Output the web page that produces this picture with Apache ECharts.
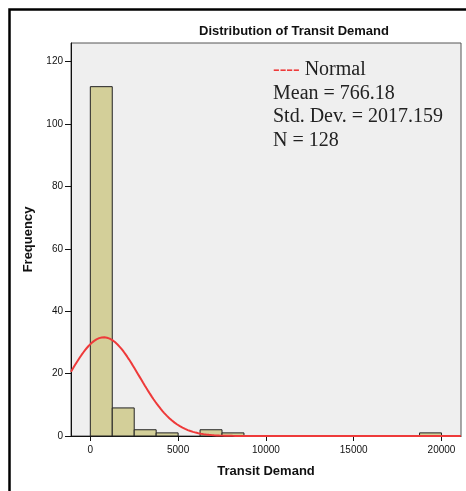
<!DOCTYPE html>
<html>
<head>
<meta charset="utf-8">
<script src="https://cdn.jsdelivr.net/npm/echarts@6/dist/echarts.min.js"></script>
<style>
  html, body { margin: 0; padding: 0; background: #fff; }
  #chart { width: 466px; height: 491px; }
</style>
</head>
<body>
<div id="chart"></div>
<script>
// Histogram bins (lower edges) and their frequencies
const binStarts = [0, 1250, 2500, 3750, 6250, 7500, 18750];
const binCounts = [112, 9, 2, 1, 2, 1, 1];
const binWidth = 1250;

// Fitted normal parameters as reported
const normalMean = 766.18;
const normalSD = 2017.159;
const normalN = 128;

// Tick labels
const xTicks = [0, 5000, 10000, 15000, 20000];
const yTicks = [0, 20, 40, 60, 80, 100, 120];

const xMin = -1100, xMax = 21110;
const yMax = 126;

// Expected count per bin under the fitted normal curve
const curve = [];
for (let x = xMin; x <= xMax; x += 50) {
  const z = (x - normalMean) / normalSD;
  const y = normalN * binWidth * Math.exp(-0.5 * z * z) / (normalSD * Math.sqrt(2 * Math.PI));
  curve.push([x, y]);
}

const barData = binStarts.map((s, i) => [s, s + binWidth, binCounts[i]]);

const chart = echarts.init(document.getElementById('chart'));
chart.setOption({
  animation: false,
  backgroundColor: '#ffffff',
  grid: {
    left: 71, top: 43, width: 390, height: 393,
    show: true, backgroundColor: '#efefef', borderColor: '#555', borderWidth: 1
  },
  xAxis: {
    type: 'value', min: xMin, max: xMax,
    name: 'Transit Demand', nameLocation: 'middle', nameGap: 29,
    nameTextStyle: { fontFamily: 'Liberation Sans', fontWeight: 'bold', fontSize: 13, color: '#111' },
    splitLine: { show: false },
    axisLine: { onZero: false, lineStyle: { color: '#111', width: 1 } },
    axisTick: { show: true, length: 5, customValues: xTicks, lineStyle: { color: '#111' } },
    axisLabel: {
      customValues: xTicks, formatter: v => String(v),
      fontFamily: 'Liberation Sans', fontSize: 10, color: '#111', margin: 9
    }
  },
  yAxis: {
    type: 'value', min: 0, max: yMax,
    name: 'Frequency', nameLocation: 'middle', nameGap: 34,
    nameTextStyle: { fontFamily: 'Liberation Sans', fontWeight: 'bold', fontSize: 13, color: '#111' },
    splitLine: { show: false },
    axisLine: { show: true, onZero: false, lineStyle: { color: '#111', width: 1 } },
    axisTick: { show: true, length: 6, customValues: yTicks, lineStyle: { color: '#111' } },
    axisLabel: {
      customValues: yTicks, formatter: v => String(v),
      fontFamily: 'Liberation Sans', fontSize: 10, color: '#111', margin: 8
    }
  },
  series: [
    {
      type: 'custom',
      data: barData,
      encode: { x: [0, 1], y: 2 },
      renderItem: function (params, api) {
        const p0 = api.coord([api.value(0), 0]);
        const p1 = api.coord([api.value(1), api.value(2)]);
        return {
          type: 'rect',
          shape: { x: p0[0], y: p1[1], width: p1[0] - p0[0], height: p0[1] - p1[1] },
          style: { fill: '#d3cf99', stroke: '#222', lineWidth: 1 }
        };
      },
      z: 2
    },
    {
      type: 'line',
      data: curve,
      showSymbol: false,
      smooth: false,
      lineStyle: { color: '#ee3a3a', width: 2 },
      clip: true,
      z: 3
    }
  ],
  graphic: [
    {
      type: 'rect', left: 7, top: 7, silent: true,
      shape: { width: 480, height: 500 },
      style: { fill: 'none', stroke: '#000', lineWidth: 2.5 }
    },
    {
      type: 'text', left: 199, top: 25,
      style: { text: 'Distribution of Transit Demand', fontFamily: 'Liberation Sans', fontWeight: 'bold', fontSize: 13, fill: '#111' }
    },
    {
      type: 'text', left: 273, top: 58,
      style: {
        text: '{r|----} Normal\nMean = ' + normalMean + '\nStd. Dev. = ' + normalSD + '\nN = ' + normalN,
        fontFamily: 'Liberation Serif', fontSize: 20, lineHeight: 23.5, fill: '#222',
        rich: { r: { fill: '#ee3a3a', fontFamily: 'Liberation Serif', fontSize: 20 } }
      }
    }
  ]
});
</script>
</body>
</html>
